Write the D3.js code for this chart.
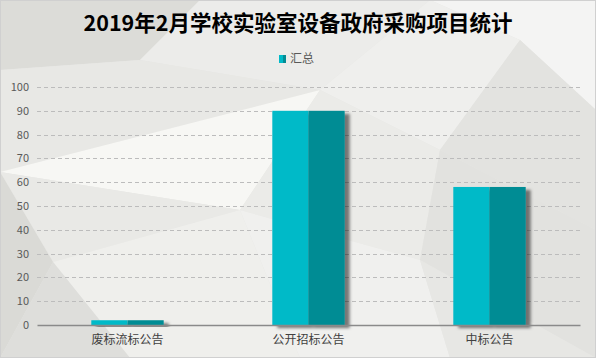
<!DOCTYPE html>
<html><head><meta charset="utf-8">
<script src="https://cdn.jsdelivr.net/npm/d3@7"></script>
<style>body{margin:0;background:#fff}svg{display:block}</style>
</head><body>
<script>
const title = "2019年2月学校实验室设备政府采购项目统计";
const seriesName = "汇总";
const categories = ["废标流标公告", "公开招标公告", "中标公告"];
const values = [2, 90, 58];
const yTicks = [0,10,20,30,40,50,60,70,80,90,100];

const W = 596, H = 358;
const margin = {left: 37, right: 16, top: 87, bottom: 33};
const svg = d3.select("body").append("svg").attr("width", W).attr("height", H);
const font = "'Noto Sans CJK SC', 'Microsoft YaHei', sans-serif";

// background low-poly
const bg = svg.append("g");
bg.append("rect").attr("x",0).attr("y",0).attr("width",W).attr("height",H).attr("fill","#e6e6e3");
const polys = [
  {p:[[0,0],[200,0],[140,60],[0,70]], c:"#dcdcd8"},
  {p:[[200,0],[430,0],[320,90],[140,60]], c:"#ececea"},
  {p:[[430,0],[596,0],[596,110],[520,40]], c:"#f4f4f3"},
  {p:[[430,0],[520,40],[440,150],[320,90]], c:"#efefed"},
  {p:[[520,40],[596,110],[596,230],[440,150]], c:"#e3e3e0"},
  {p:[[0,70],[140,60],[320,90],[0,172]], c:"#e8e8e5"},
  {p:[[0,172],[320,90],[240,210]], c:"#f7f7f4"},
  {p:[[0,172],[240,210],[53,262]], c:"#e9e9e6"},
  {p:[[0,172],[53,262],[0,358]], c:"#dadad6"},
  {p:[[53,262],[240,210],[300,358],[130,358]], c:"#efefec"},
  {p:[[53,262],[130,358],[0,358]], c:"#dededb"},
  {p:[[320,90],[440,150],[420,260],[240,210]], c:"#ebebe8"},
  {p:[[440,150],[596,230],[596,358],[420,260]], c:"#e2e2df"},
  {p:[[240,210],[420,260],[450,358],[300,358]], c:"#f0f0ee"},
  {p:[[420,260],[596,358],[450,358]], c:"#e7e7e4"}
];
bg.selectAll("polygon").data(polys).join("polygon")
  .attr("points", d => d.p.map(q => q.join(",")).join(" "))
  .attr("fill", d => d.c);
bg.append("rect").attr("x",0.5).attr("y",0.5).attr("width",W-1).attr("height",H-1)
  .attr("fill","none").attr("stroke","#d0d0d0");

const defs = svg.append("defs");
const f = defs.append("filter").attr("id","sh").attr("x","-20%").attr("y","-20%").attr("width","150%").attr("height","150%");
f.append("feDropShadow").attr("dx",5).attr("dy",3).attr("stdDeviation",1.6)
  .attr("flood-color","#000").attr("flood-opacity",0.5);
const lg = defs.append("linearGradient").attr("id","lg");
lg.append("stop").attr("offset","0%").attr("stop-color","#00BAC8");
lg.append("stop").attr("offset","50%").attr("stop-color","#00BAC8");
lg.append("stop").attr("offset","50%").attr("stop-color","#048C94");
lg.append("stop").attr("offset","100%").attr("stop-color","#048C94");

const x = d3.scaleBand().domain(categories).range([margin.left, W - margin.right]).paddingInner(0.6).paddingOuter(0.3);
const y = d3.scaleLinear().domain([0,100]).range([H - margin.bottom, margin.top]);

// title
svg.append("text").attr("x", 298).attr("y", 31).attr("text-anchor","middle")
  .attr("font-family", font).attr("font-weight","bold").attr("font-size", 21.5).attr("fill","#000").text(title);

// legend
svg.append("rect").attr("x",279).attr("y",55).attr("width",7).attr("height",8).attr("fill","url(#lg)");
svg.append("text").attr("x",290).attr("y",63).attr("font-family",font).attr("font-size",12).attr("fill","#595959").text(seriesName);

// grid
const grid = svg.append("g");
grid.selectAll("line").data(yTicks.filter(t => t > 0)).join("line")
  .attr("x1", margin.left).attr("x2", W - margin.right)
  .attr("y1", d => Math.round(y(d)) + 0.5).attr("y2", d => Math.round(y(d)) + 0.5)
  .attr("stroke","#bcbcbc").attr("stroke-dasharray","4,3");

// y axis labels
const ya = svg.append("g").attr("transform", `translate(${margin.left},0)`)
  .call(d3.axisLeft(y).tickValues(yTicks).tickSize(0).tickPadding(8));
ya.select(".domain").remove();
ya.selectAll("text").attr("font-family", font).attr("font-size", 11).attr("fill","#595959");

// bars
const bars = svg.append("g");
categories.forEach((c, i) => {
  const g = bars.append("g").attr("filter","url(#sh)");
  const x0 = x(c), bw = x.bandwidth(), yt = y(values[i]), yb = y(0);
  g.append("rect").attr("x", x0).attr("y", yt).attr("width", bw/2).attr("height", yb - yt).attr("fill","#00BAC8");
  g.append("rect").attr("x", x0 + bw/2).attr("y", yt).attr("width", bw/2).attr("height", yb - yt).attr("fill","#048C94");
});

// x axis
const xa = svg.append("g").attr("transform", `translate(0,${y(0)})`)
  .call(d3.axisBottom(x).tickSize(0).tickPadding(10));
xa.select(".domain").attr("stroke","#8a8a8a").attr("stroke-width",1.3);
xa.selectAll("text").attr("font-family", font).attr("font-size", 12).attr("fill","#404040");
</script>
</body></html>
